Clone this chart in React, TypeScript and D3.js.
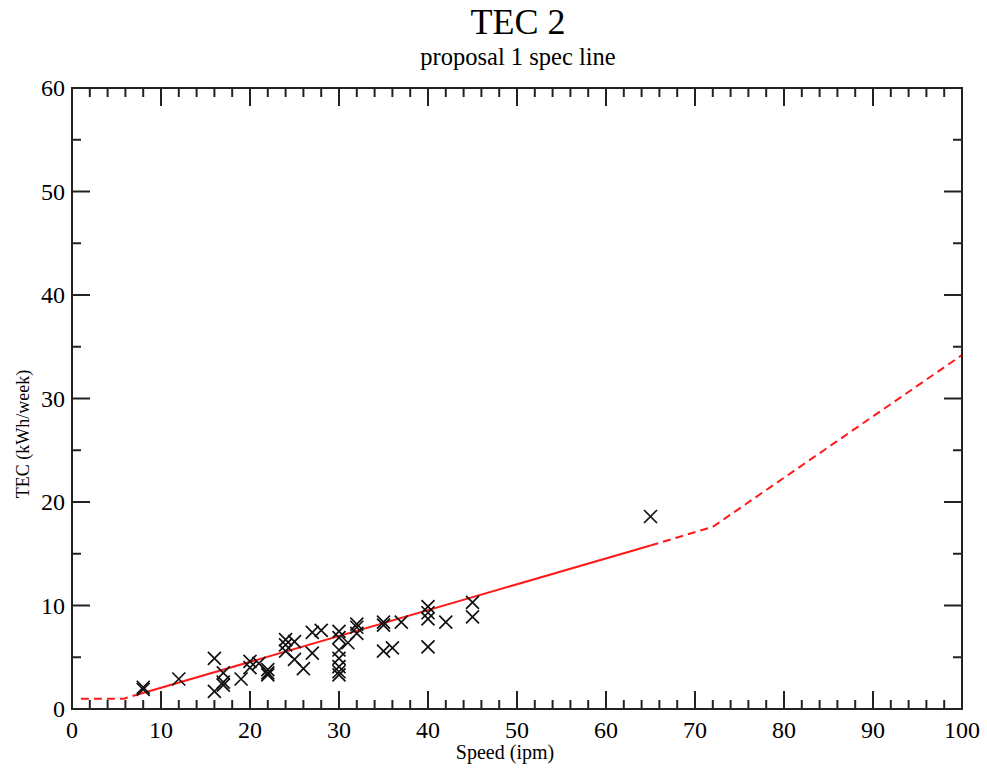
import React from "react";
import * as d3 from "d3";

const titleText = "TEC 2";
const subtitleText = "proposal 1 spec line";
const xLabel = "Speed (ipm)";
const yLabel = "TEC (kWh/week)";

const xTicks = [0, 10, 20, 30, 40, 50, 60, 70, 80, 90, 100];
const yTicks = [0, 10, 20, 30, 40, 50, 60];

// measured points: speed (ipm), TEC (kWh/week)
const speeds = [
  8, 8, 12, 16, 16, 17, 17, 17, 19, 20, 20, 21, 22, 22, 22,
  24, 24, 24, 25, 25, 26, 27, 27, 28,
  30, 30, 30, 30, 30, 30, 30, 31, 32, 32, 32,
  35, 35, 35, 36, 37, 40, 40, 40, 40, 42, 45, 45, 65,
];
const tecs = [
  2.1, 1.9, 2.9, 4.9, 1.7, 3.5, 2.6, 2.3, 2.9, 4.6, 4.0, 4.4, 3.8, 3.5, 3.3,
  6.7, 6.2, 5.6, 6.5, 4.8, 3.9, 7.4, 5.4, 7.6,
  7.5, 6.9, 5.7, 4.9, 4.1, 3.6, 3.3, 6.4, 8.2, 7.9, 7.3,
  8.4, 8.1, 5.6, 5.9, 8.4, 9.9, 9.3, 8.7, 6.0, 8.4, 10.3, 8.9, 18.6,
];

// spec line segments
const specLowX = [1, 5.8, 7.2];
const specLowY = [1.0, 1.0, 1.35];
const specMidX = [7.2, 65];
const specMidY = [1.35, 15.8];
const specHighX = [65, 72, 100];
const specHighY = [15.8, 17.6, 34.2];

const W = 987;
const H = 771;
const left = 72, right = 962, top = 88, bottom = 709;

export default function App() {
  const x = d3.scaleLinear().domain([0, 100]).range([left, right]);
  const y = d3.scaleLinear().domain([0, 60]).range([bottom, top]);
  const line = d3.line<[number, number]>().x((d) => x(d[0])).y((d) => y(d[1]));
  const seg = (xs: number[], ys: number[]) => line(xs.map((v, i) => [v, ys[i]] as [number, number])) || "";

  const xMinor = d3.range(0, 101, 2).filter((v) => v % 10 !== 0);
  const yMinor = d3.range(0, 61, 5).filter((v) => v % 10 !== 0);
  const major = 18, minor = 9;
  const axisColor = "#222";
  const font = "'Liberation Serif', 'Times New Roman', serif";
  const m = 6.5;

  return (
    <svg width={W} height={H} style={{ position: "absolute", left: 0, top: 0, background: "#fff" }}>
      <rect x={0} y={0} width={W} height={H} fill="#fff" />
      <text x={518} y={34} textAnchor="middle" fontFamily={font} fontSize={36} fill="#000">{titleText}</text>
      <text x={518} y={65} textAnchor="middle" fontFamily={font} fontSize={24.5} fill="#000">{subtitleText}</text>

      {/* ticks */}
      <g stroke={axisColor} strokeWidth={2}>
        {xTicks.map((t) => (
          <g key={"xt" + t}>
            <line x1={x(t)} x2={x(t)} y1={bottom} y2={bottom - major} />
            <line x1={x(t)} x2={x(t)} y1={top} y2={top + major} />
          </g>
        ))}
        {xMinor.map((t) => (
          <g key={"xm" + t}>
            <line x1={x(t)} x2={x(t)} y1={bottom} y2={bottom - minor} />
            <line x1={x(t)} x2={x(t)} y1={top} y2={top + minor} />
          </g>
        ))}
        {yTicks.map((t) => (
          <g key={"yt" + t}>
            <line x1={left} x2={left + major} y1={y(t)} y2={y(t)} />
            <line x1={right} x2={right - major} y1={y(t)} y2={y(t)} />
          </g>
        ))}
        {yMinor.map((t) => (
          <g key={"ym" + t}>
            <line x1={left} x2={left + minor} y1={y(t)} y2={y(t)} />
            <line x1={right} x2={right - minor} y1={y(t)} y2={y(t)} />
          </g>
        ))}
      </g>

      {/* spec line */}
      <g fill="none" stroke="#ff1a1a" strokeWidth={2}>
        <path d={seg(specLowX, specLowY)} strokeDasharray="8,5" />
        <path d={seg(specMidX, specMidY)} />
        <path d={seg(specHighX, specHighY)} strokeDasharray="8,5" />
      </g>

      {/* scatter */}
      <g stroke="#111" strokeWidth={1.7}>
        {speeds.map((s, i) => {
          const cx = x(s), cy = y(tecs[i]);
          return (
            <path key={"p" + i} d={`M${cx - m},${cy - m}L${cx + m},${cy + m}M${cx - m},${cy + m}L${cx + m},${cy - m}`} />
          );
        })}
      </g>

      {/* frame */}
      <rect x={left} y={top} width={right - left} height={bottom - top} fill="none" stroke={axisColor} strokeWidth={2} />

      {/* tick labels */}
      <g fontFamily={font} fontSize={24} fill="#000">
        {xTicks.map((t) => (
          <text key={"xl" + t} x={x(t)} y={bottom + 29} textAnchor="middle">{t}</text>
        ))}
        {yTicks.map((t) => (
          <text key={"yl" + t} x={left - 7} y={y(t) + 8} textAnchor="end">{t}</text>
        ))}
      </g>

      <text x={505} y={759} textAnchor="middle" fontFamily={font} fontSize={20} fill="#000">{xLabel}</text>
      <text transform={`translate(29,434) rotate(-90)`} textAnchor="middle" fontFamily={font} fontSize={18} fill="#000">{yLabel}</text>
    </svg>
  );
}
